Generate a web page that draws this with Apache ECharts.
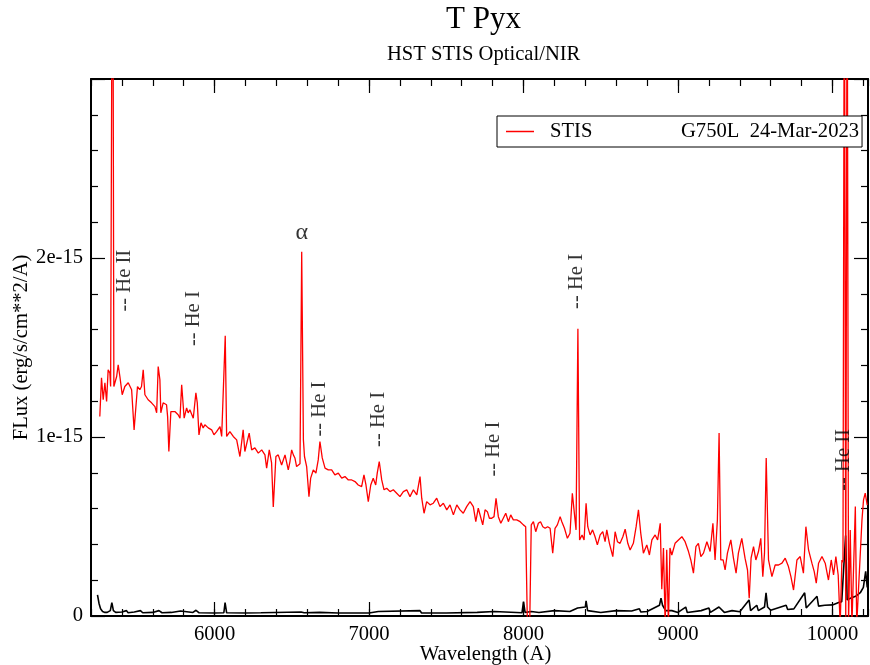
<!DOCTYPE html>
<html>
<head>
<meta charset="utf-8">
<script src="https://cdn.jsdelivr.net/npm/echarts@6/dist/echarts.min.js"></script>
<style>html,body{margin:0;padding:0;background:#fff;}#c{width:870px;height:665px;}</style>
</head>
<body>
<div id="c"></div>
<script>
// ---- data (flux in units of 1e-15 erg/s/cm**2/A) ----
const stisWavelength = [5257,5268,5279,5290,5301,5311,5322,5327,5340,5348,5366,5376,5387,5402,5419,5441,5463,5479,5486,5501,5516,5527,5538,5549,5570,5592,5614,5625,5635,5646,5652,5667,5689,5696,5704,5717,5743,5764,5776,5787,5793,5803,5819,5829,5840,5862,5879,5888,5899,5912,5926,5937,5959,5981,5996,6013,6035,6046,6057,6069,6078,6099,6121,6143,6164,6185,6196,6224,6240,6261,6283,6305,6326,6337,6354,6369,6380,6397,6412,6434,6456,6477,6488,6499,6510,6520,6531,6542,6553,6564,6575,6582,6596,6611,6622,6639,6656,6671,6682,6697,6715,6736,6758,6779,6801,6823,6844,6866,6888,6909,6930,6952,6967,6980,6995,7011,7027,7043,7053,7066,7082,7097,7114,7136,7157,7179,7200,7222,7244,7265,7287,7309,7330,7341,7356,7373,7395,7416,7438,7459,7481,7503,7524,7546,7568,7589,7610,7632,7654,7675,7691,7707,7718,7736,7751,7766,7779,7794,7809,7822,7837,7853,7869,7885,7902,7917,7934,7956,7978,7999,8014,8020,8025,8040,8050,8064,8079,8096,8110,8125,8140,8156,8172,8189,8204,8219,8237,8248,8265,8284,8301,8316,8327,8340,8352,8363,8379,8392,8405,8416,8431,8447,8463,8478,8496,8513,8528,8539,8556,8578,8593,8608,8625,8643,8658,8675,8690,8711,8729,8744,8759,8776,8798,8815,8831,8852,8868,8885,8895,8906,8917,8927,8938,8948,8960,8981,9003,9025,9046,9068,9083,9100,9116,9132,9148,9165,9187,9208,9226,9240,9255,9266,9277,9292,9305,9320,9342,9359,9376,9391,9413,9434,9450,9461,9473,9489,9504,9521,9536,9549,9560,9571,9586,9608,9629,9651,9673,9694,9715,9731,9748,9770,9791,9812,9828,9845,9867,9882,9895,9910,9932,9953,9974,9992,10007,10022,10037,10050,10061,10068,10077,10086,10095,10104,10115,10126,10148,10157,10191,10201,10212,10225];
const stisFlux = [1.114,1.331,1.208,1.303,1.198,1.375,1.359,1.282,4.5,1.282,1.338,1.403,1.338,1.236,1.282,1.303,1.264,1.040,1.045,1.282,1.264,1.282,1.375,1.236,1.208,1.191,1.170,1.135,1.394,1.320,1.135,1.191,1.180,1.114,0.919,1.142,1.142,1.124,1.105,1.292,1.282,1.105,1.163,1.135,1.152,1.105,1.247,1.191,1.012,1.079,1.051,1.068,1.051,1.040,1.012,1.030,1.058,1.003,1.003,1.566,1.003,1.030,1.003,0.984,0.891,1.040,0.919,1.022,0.928,0.939,0.910,0.928,0.900,0.826,0.928,0.855,0.609,0.891,0.900,0.844,0.900,0.816,0.863,0.928,0.900,0.883,0.835,0.826,0.850,2.035,0.984,0.891,0.835,0.667,0.770,0.816,0.798,0.872,0.975,0.883,0.826,0.816,0.816,0.788,0.798,0.770,0.779,0.760,0.760,0.751,0.732,0.723,0.788,0.732,0.639,0.732,0.770,0.732,0.798,0.863,0.760,0.705,0.714,0.695,0.705,0.686,0.667,0.695,0.705,0.667,0.705,0.677,0.779,0.658,0.574,0.639,0.621,0.630,0.658,0.611,0.630,0.593,0.621,0.565,0.621,0.593,0.574,0.611,0.639,0.611,0.527,0.602,0.611,0.509,0.593,0.583,0.546,0.546,0.555,0.658,0.555,0.518,0.546,0.574,0.527,0.565,0.537,0.537,0.527,0.509,0.499,0.499,-0.05,-0.05,0.509,0.527,0.471,0.518,0.527,0.499,0.490,0.499,0.490,0.351,0.490,0.509,0.555,0.527,0.490,0.434,0.462,0.686,0.686,0.481,1.605,0.425,0.453,0.425,0.630,0.499,0.453,0.481,0.443,0.397,0.453,0.471,0.415,0.481,0.406,0.332,0.471,0.415,0.406,0.443,0.485,0.406,0.369,0.406,0.499,0.593,0.462,0.351,0.397,0.341,0.425,0.453,0.425,0.518,0.150,0.380,-0.05,0.370,-0.05,0.380,0.341,0.406,0.425,0.443,0.415,0.360,0.313,0.239,0.387,0.406,0.332,0.351,0.415,0.360,0.518,0.313,0.537,1.022,0.313,0.313,0.257,0.351,0.425,0.323,0.239,0.351,0.434,0.323,0.257,0.099,0.323,0.387,0.313,0.360,0.434,0.220,0.351,0.882,0.313,0.220,0.285,0.285,0.295,0.323,0.276,0.220,0.145,0.313,0.332,0.239,0.499,0.369,0.295,0.248,0.183,0.295,0.332,0.295,0.201,0.313,0.229,0.332,0.229,-0.05,0.313,0.300,4.0,-0.05,4.0,-0.05,0.481,-0.05,0.611,-0.05,0.537,0.649,0.686,0.620];

const errWavelength = [5242,5252,5262,5275,5290,5305,5325,5335,5345,5360,5400,5430,5440,5480,5520,5535,5600,5640,5660,5720,5780,5790,5860,5880,5900,6000,6060,6068,6078,6200,6300,6560,6565,6580,6680,6800,7000,7060,7070,7330,7340,7500,7700,7810,7820,7990,8000,8010,8050,8100,8200,8300,8350,8400,8405,8415,8500,8600,8700,8750,8760,8800,8880,8890,8900,8920,8960,9000,9050,9060,9150,9200,9210,9265,9300,9350,9400,9460,9470,9510,9520,9560,9570,9580,9600,9700,9710,9750,9820,9830,9900,9910,9950,10000,10040,10060,10085,10095,10120,10150,10180,10200,10215,10225];
const errFlux = [0.118,0.070,0.040,0.025,0.020,0.020,0.030,0.075,0.030,0.020,0.022,0.030,0.018,0.022,0.030,0.018,0.020,0.030,0.018,0.020,0.028,0.018,0.020,0.032,0.018,0.017,0.018,0.075,0.018,0.017,0.018,0.022,0.030,0.018,0.020,0.017,0.017,0.025,0.017,0.030,0.017,0.017,0.020,0.025,0.018,0.018,0.080,0.020,0.025,0.020,0.030,0.025,0.045,0.050,0.085,0.030,0.020,0.030,0.028,0.040,0.022,0.025,0.060,0.100,0.060,0.030,0.030,0.020,0.050,0.020,0.030,0.045,0.020,0.050,0.020,0.030,0.024,0.090,0.030,0.060,0.030,0.050,0.130,0.050,0.032,0.060,0.036,0.040,0.130,0.045,0.110,0.055,0.060,0.062,0.075,0.080,0.450,0.090,0.100,0.110,0.130,0.160,0.250,0.160];

const lineLabelWavelength = [5419, 5863, 6564, 6679, 7061, 7807, 8344, 10071];
const lineLabelFlux = [1.873, 1.661, 2.140, 1.156, 1.098, 0.932, 1.869, 0.872];
const lineLabelText = ['-- He II', '-- He I', 'α', '-- He I', '-- He I', '-- He I', '-- He I', '-- He II'];
const lineLabelRotate = [90, 90, 0, 90, 90, 90, 90, 90];
const lineLabelSize = [20.6, 20.6, 24, 20.6, 20.6, 20.6, 20.6, 20.6];

const xTickValues = [6000, 7000, 8000, 9000, 10000];
const yTickValues = [0, 1, 2];
const yTickText = ['0', '1e-15', '2e-15'];
const titleText = 'T Pyx';
const subtitleText = 'HST STIS Optical/NIR';
const legendLeft = 'STIS';
const legendRight = 'G750L  24-Mar-2023';

// ---- chart ----
const FONT = '"Liberation Serif", "Times New Roman", serif';
const FS = 20.6;
const chart = echarts.init(document.getElementById('c'), null, {renderer: 'canvas'});
const stisData = stisWavelength.map((w, i) => [w, stisFlux[i]]);
const errData = errWavelength.map((w, i) => [w, errFlux[i]]);
const labelData = lineLabelWavelength.map((w, i) => ({
  value: [w, lineLabelFlux[i]],
  label: {rotate: lineLabelRotate[i], formatter: lineLabelText[i], fontSize: lineLabelSize[i]}
}));

const XMIN = 5200, XMAX = 10230;
const axisLineStyle = {color: '#000', width: 2};
const tickStyle = {color: '#000', width: 1.2};
function majorX(pos, withLabels) {
  return {
    type: 'value', position: pos, min: XMIN, max: XMAX, gridIndex: 0,
    axisLine: {show: true, onZero: false, lineStyle: axisLineStyle},
    axisTick: {show: true, inside: true, length: 14, lineStyle: tickStyle, customValues: xTickValues},
    axisLabel: withLabels ? {show: true, customValues: xTickValues, color: '#000', fontFamily: FONT, fontSize: FS, margin: 8,
      formatter: v => String(v)} : {show: false},
    splitLine: {show: false}
  };
}
function minorX(pos) {
  return {
    type: 'value', position: pos, min: XMIN, max: XMAX, interval: 200, gridIndex: 0,
    axisLine: {show: false, onZero: false},
    axisTick: {show: true, inside: true, length: 7, lineStyle: tickStyle},
    axisLabel: {show: false}, splitLine: {show: false}
  };
}
function yAx(pos, withLabels) {
  return {
    type: 'value', position: pos, min: 0, max: 3, interval: 1, gridIndex: 0,
    axisLine: {show: true, onZero: false, lineStyle: axisLineStyle},
    axisTick: {show: true, inside: true, length: 14, lineStyle: tickStyle},
    minorTick: {show: true, splitNumber: 5, length: 7, lineStyle: tickStyle},
    axisLabel: withLabels ? {
      show: true, color: '#000', fontFamily: FONT, fontSize: FS, margin: 8,
      formatter: v => { const k = yTickValues.indexOf(v); return k >= 0 ? yTickText[k] : ''; }
    } : {show: false},
    splitLine: {show: false}, minorSplitLine: {show: false}
  };
}

const xBottom = majorX('bottom', true);
xBottom.name = 'Wavelength (A)';
xBottom.nameLocation = 'middle';
xBottom.nameGap = 28;
xBottom.nameMoveOverlap = false;
xBottom.nameTextStyle = {color: '#000', fontFamily: FONT, fontSize: FS, padding: [0, 0, 0, 12]};
const yLeft = yAx('left', true);
yLeft.name = 'FLux (erg/s/cm**2/A)';
yLeft.nameLocation = 'middle';
yLeft.nameGap = 59;
yLeft.nameMoveOverlap = false;
yLeft.nameTextStyle = {color: '#000', fontFamily: FONT, fontSize: FS};

chart.setOption({
  animation: false,
  backgroundColor: '#fff',
  textStyle: {fontFamily: FONT},
  title: [
    {text: titleText, left: 446, top: 4, padding: 0,
     textStyle: {fontFamily: FONT, fontSize: 31, fontWeight: 'normal', color: '#000'}},
    {text: subtitleText, left: 387, top: 44, padding: 0,
     textStyle: {fontFamily: FONT, fontSize: FS, fontWeight: 'normal', color: '#000'}}
  ],
  legend: {
    data: [{name: legendLeft, icon: 'path://M0,0H28V1.5H0Z'}], left: 497, top: 116, orient: 'horizontal',
    padding: [5, 3, 5, 9], itemWidth: 28, itemHeight: 1.5,
    borderColor: '#000', borderWidth: 1, backgroundColor: '#fff', borderRadius: 0,
    itemStyle: {color: '#ff0000'},
    formatter: () => '{a|' + legendLeft + '}{b|' + legendRight + '}',
    textStyle: {
      color: '#000', fontFamily: FONT, fontSize: FS, lineHeight: 20,
      rich: {
        a: {fontFamily: FONT, fontSize: FS, lineHeight: 20, color: '#000', width: 131, padding: [0, 0, 0, 11]},
        b: {fontFamily: FONT, fontSize: FS, lineHeight: 20, color: '#000'}
      }
    }
  },
  grid: {left: 91, right: 2, top: 79, bottom: 49, containLabel: false, outerBoundsMode: 'none'},
  xAxis: [xBottom, minorX('bottom'), majorX('top', false), minorX('top')],
  yAxis: [yLeft, yAx('right', false)],
  series: [
    {
      name: legendLeft, type: 'line', xAxisIndex: 0, yAxisIndex: 0, data: stisData,
      symbol: 'none', clip: true, lineStyle: {color: '#ff0000', width: 1.3}, itemStyle: {color: '#ff0000'},
      z: 3
    },
    {
      name: 'err', type: 'line', xAxisIndex: 0, yAxisIndex: 0, data: errData,
      symbol: 'none', clip: true, lineStyle: {color: '#000', width: 1.6}, itemStyle: {color: '#000'},
      z: 2
    },
    {
      name: 'lines', type: 'scatter', xAxisIndex: 0, yAxisIndex: 0, data: labelData,
      symbolSize: 0, silent: true,
      label: {show: true, position: 'inside', align: 'center', verticalAlign: 'middle',
        color: '#000', fontFamily: FONT, fontSize: FS},
      z: 4
    }
  ]
});
</script>
</body>
</html>
